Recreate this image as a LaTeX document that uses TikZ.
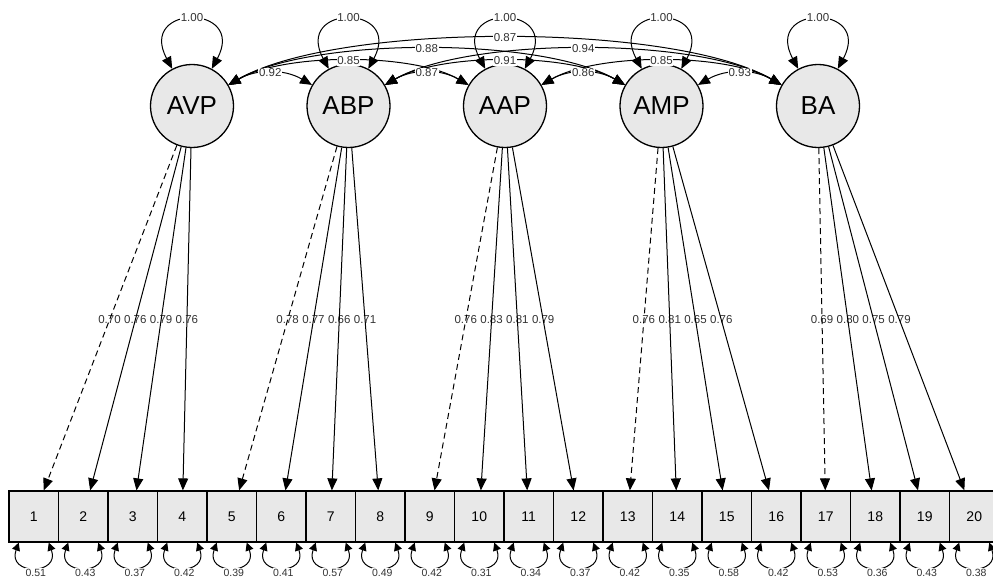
\documentclass[tikz,border=0pt]{standalone}
\usepackage{fontspec}
\setmainfont{Liberation Sans}
\usetikzlibrary{arrows.meta,calc}
\begin{document}
\begin{tikzpicture}[x=1pt,y=-1pt,
  lat/.style={circle,draw=black,line width=1.3pt,fill=gray!18,minimum size=83pt,inner sep=0pt,font=\fontsize{26}{26}\selectfont},
  man/.style={rectangle,draw=black,line width=1.2pt,fill=gray!18,minimum width=49.5pt,minimum height=51pt,inner sep=0pt,font=\fontsize{14}{14}\selectfont},
  tip/.tip={Triangle[length=12pt,width=10pt]},
  stip/.tip={Triangle[length=8pt,width=8pt]},
  ledge/.style={line width=1pt,-tip},
  dedge/.style={ledge,dash pattern=on 6pt off 4pt},
  cov/.style={line width=1pt,tip-tip},
  res/.style={line width=1pt,stip-stip},
  llab/.style={inner sep=0.5pt,font=\fontsize{11.5}{11.5}\selectfont,text=black!80},
  clab/.style={fill=white,inner sep=0.6pt,font=\fontsize{11.5}{11.5}\selectfont,text=black!80},
  rlab/.style={fill=white,inner sep=0.5pt,font=\fontsize{10.5}{10.5}\selectfont,text=black!80},
]
\clip (0,0) rectangle (993,578);
\fill[white] (0,0) rectangle (993,578);
% latent variables
\foreach \n/\x in {AVP/192,ABP/348.5,AAP/505,AMP/661.5,BA/818}
  \node[lat] (\n) at (\x,106) {\n};
% indicators
\foreach \i in {1,...,20}
  \node[man] (b\i) at ({9+49.5*(\i-0.5)},516.5) {\i};
% loadings
\foreach \l/\b/\v/\s in {AVP/1/0.70/dedge,AVP/2/0.76/ledge,AVP/3/0.79/ledge,AVP/4/0.76/ledge,
  ABP/5/0.78/dedge,ABP/6/0.77/ledge,ABP/7/0.66/ledge,ABP/8/0.71/ledge,
  AAP/9/0.76/dedge,AAP/10/0.83/ledge,AAP/11/0.81/ledge,AAP/12/0.79/ledge,
  AMP/13/0.76/dedge,AMP/14/0.81/ledge,AMP/15/0.65/ledge,AMP/16/0.76/ledge,
  BA/17/0.69/dedge,BA/18/0.80/ledge,BA/19/0.75/ledge,BA/20/0.79/ledge}{
  \node[llab] (L\b) at ($(\l)!0.5213!(b\b)$) {\v};
  \draw[\s] (\l) -- (b\b);
}
% residual variances
\foreach \i/\v in {1/0.51,2/0.43,3/0.37,4/0.42,5/0.39,6/0.41,7/0.57,8/0.49,9/0.42,10/0.31,
  11/0.34,12/0.37,13/0.42,14/0.35,15/0.58,16/0.42,17/0.53,18/0.36,19/0.43,20/0.38}{
  \draw[res] ([xshift=-15pt]b\i.south) .. controls +(-12,33) and +(12,33) .. ([xshift=15pt]b\i.south);
  \node[rlab] (r\i) at ($(b\i.south)+(2,30)$) {\v};
}
% latent covariances
\foreach \a/\b/\h/\k in {AVP/BA/83.9/145.3,
  AVP/AMP/69.2/119.9,ABP/BA/69.2/119.9,
  AVP/AAP/53.2/92.2,ABP/AMP/53.2/92.2,AAP/BA/53.2/92.2,
  AVP/ABP/37.2/64.4,ABP/AAP/37.2/64.4,AAP/AMP/37.2/64.4,AMP/BA/37.2/64.4}{
  \draw[cov] (\a) .. controls ($(\a)+(\k,-\h)$) and ($(\b)+(-\k,-\h)$) .. (\b);
}
% latent variances
\foreach \n in {AVP,ABP,AAP,AMP,BA}{
  \draw[cov] (\n.118) .. controls +(-35,-65) and +(35,-65) .. (\n.62);
  \node[clab] (v\n) at ($(\n)+(0,-88)$) {1.00};
}
% covariance labels
\foreach \a/\b/\dy/\v in {AVP/BA/68/0.87,AVP/AMP/57/0.88,ABP/BA/57/0.94,
  AVP/AAP/45/0.85,ABP/AMP/45/0.91,AAP/BA/45/0.85,
  AVP/ABP/33/0.92,ABP/AAP/33/0.87,AAP/AMP/33/0.86,AMP/BA/33/0.93}{
  \node[clab] (c\a\b) at ($($(\a)!0.5!(\b)$)+(0,-\dy)$) {\v};
}
\end{tikzpicture}
\end{document}
